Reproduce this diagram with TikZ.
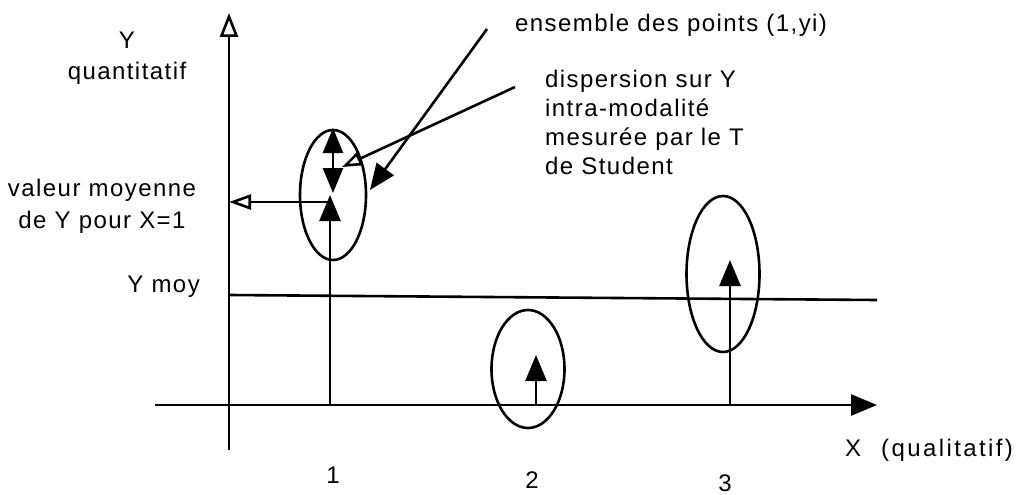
\documentclass[tikz,border=0pt]{standalone}
\usepackage{fontspec}
\setmainfont[LetterSpace=6]{Liberation Sans}
\newfontfamily\widesans[LetterSpace=10]{Liberation Sans}
\usetikzlibrary{arrows.meta,shapes.geometric}
\begin{document}
\begin{tikzpicture}[x=1pt,y=-1pt,
  every node/.style={font=\fontsize{24}{29}\selectfont, inner sep=0pt, text=black},
  ax/.style={line width=2.6pt},
  fillhead/.style={-{Triangle[length=26pt,width=21pt]}},
  openhead/.style={-{Triangle[open,length=22pt,width=15pt]}},
  oval/.style={draw, ellipse, line width=2.6pt, inner sep=0pt}]
\useasboundingbox (0,0) rectangle (1023,495);

% axes
\coordinate (yb) at (229,450);
\coordinate (yt) at (229,13);
\coordinate (xl) at (155,405);
\coordinate (xr) at (877,405);
\coordinate (ml) at (229,295);
\coordinate (mr) at (877,300);
\draw[ax,-{Triangle[open,length=24pt,width=18pt]}] (yb) -- (yt);
\draw[ax,fillhead] (xl) -- (xr);
\draw[ax] (ml) -- (mr);

% ellipses
\node[oval,minimum width=66pt,minimum height=130pt] (e1) at (333,195) {};
\node[oval,minimum width=73pt,minimum height=118pt] (e2) at (528,369) {};
\node[oval,minimum width=73pt,minimum height=156pt] (e3) at (723,274) {};

% mean arrows
\coordinate (b1) at (330,405); \coordinate (t1) at (330,195);
\coordinate (b2) at (536,405); \coordinate (t2) at (536,355);
\coordinate (b3) at (730,405); \coordinate (t3) at (730,260);
\draw[ax,fillhead] (b1) -- (t1);
\draw[ax,fillhead] (b2) -- (t2);
\draw[ax,fillhead] (b3) -- (t3);

% mean value to Y axis
\coordinate (m1) at (330,202); \coordinate (m0) at (229,202);
\draw[ax,openhead] (m1) -- (m0);

% dispersion double arrow
\coordinate (dt) at (333,128); \coordinate (db) at (333,193);
\draw[ax,{Triangle[length=25pt,width=20pt]}-{Triangle[length=25pt,width=20pt]}] (dt) -- (db);

% labels
\node (ylab) [align=center] at (127,58) {Y\\[2pt]quantitatif};
\node (vm) [align=center] at (102,206) {valeur moyenne\\[3pt]de Y pour X=1};
\node (ym) [anchor=east] at (200,287) {Y moy};
\node (ens) [anchor=west] at (515,25) {ensemble des points (1,yi)};
\node (disp) [anchor=north west,align=left] at (545,70) {dispersion sur Y\\intra-modalité\\mesurée par le T\\de Student};
\node (n1) at (333,475) {1};
\node (n2) at (532,480) {2};
\node (n3) at (725,483) {3};
\node (xq) [anchor=west] at (845,450) {\widesans X\hspace{20pt}(qualitatif)};

% callouts
\coordinate (cens) at (487,29);
\coordinate (tens) at (370,190);
\coordinate (cdisp) at (515,87);
\coordinate (tdisp) at (342,167);
\draw[ax,fillhead] (cens) -- (tens);
\draw[ax,-{Triangle[open,length=20pt,width=14pt]}] (cdisp) -- (tdisp);
\end{tikzpicture}
\end{document}
